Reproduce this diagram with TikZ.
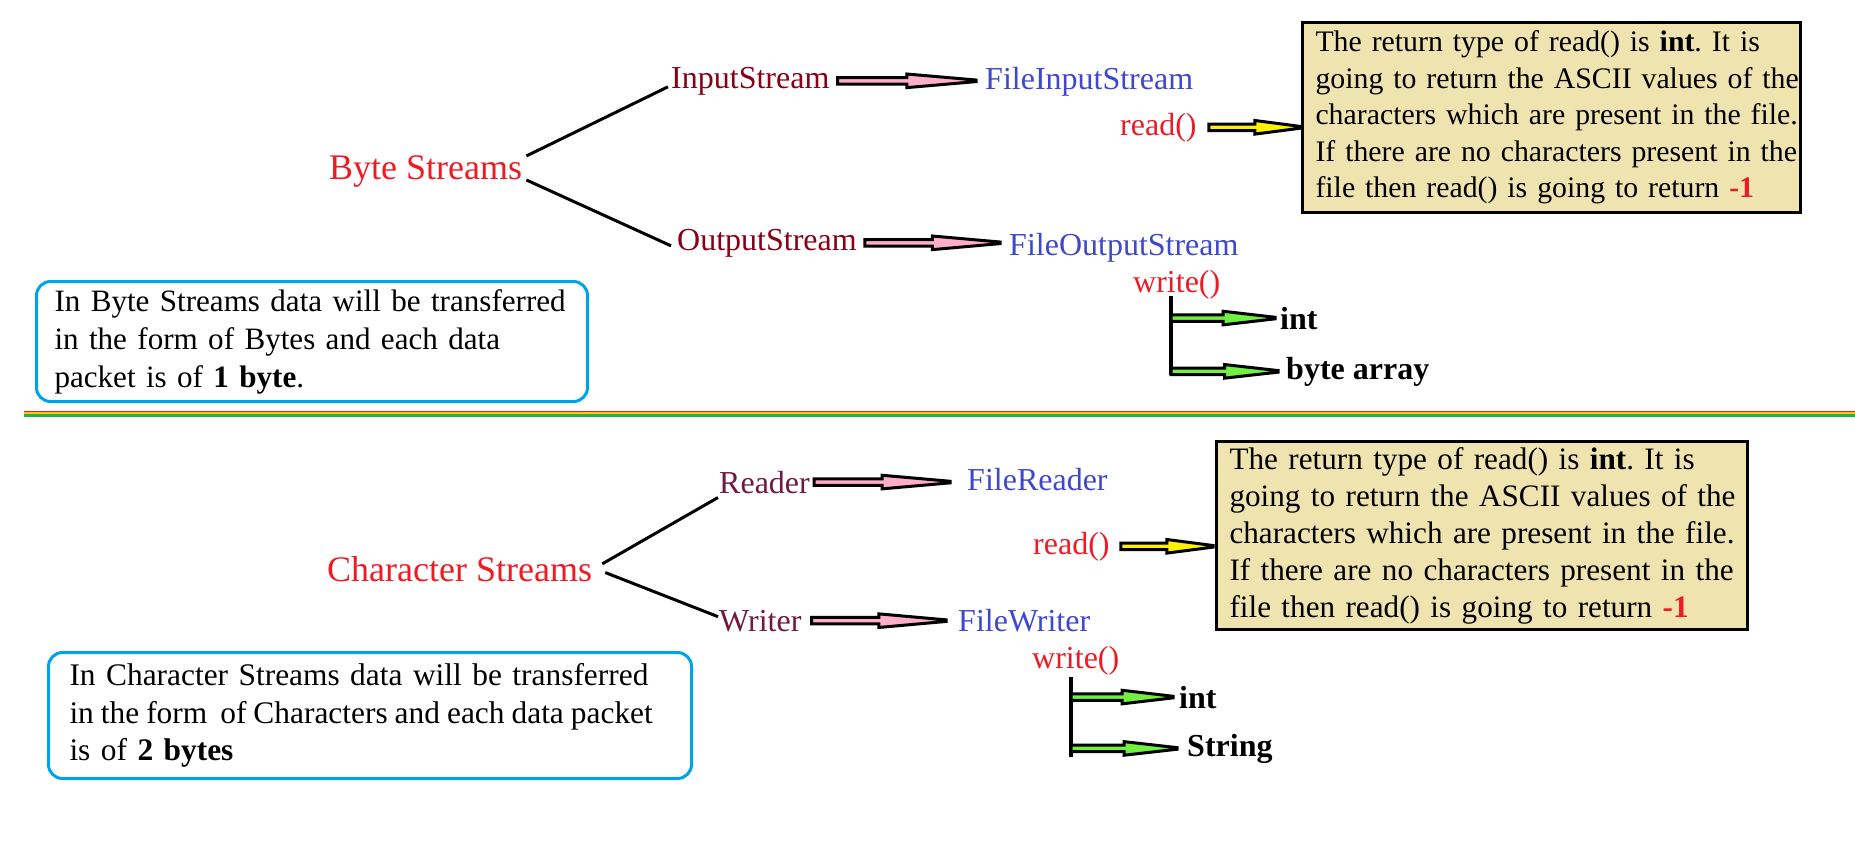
\documentclass[tikz,border=0pt]{standalone}
\usepackage{fontspec}
\setmainfont{Liberation Serif}
\usetikzlibrary{calc}
\definecolor{tred}{HTML}{ED1C24}
\definecolor{dred}{HTML}{880015}
\definecolor{pred}{HTML}{701A40}
\definecolor{tblue}{HTML}{3F48CC}
\definecolor{boxfill}{HTML}{EFE4B0}
\definecolor{noteblue}{HTML}{00A2E8}
\definecolor{apink}{HTML}{FFAEC9}
\definecolor{ayellow}{HTML}{FFF200}
\definecolor{agreen}{HTML}{70F040}
\definecolor{sepyellow}{HTML}{FFC90E}
\definecolor{sepgreen}{HTML}{22B14C}
\frenchspacing
\hbadness=10000 \hfuzz=100pt
\tikzset{
 lbl/.style={inner sep=0pt, anchor=base west, font=\fontsize{32}{37}\selectfont},
 title/.style={lbl, font=\fontsize{36}{42}\selectfont, text=tred},
 fat/.style={draw=black, line width=3pt, line join=miter, miter limit=3},
 note/.style={draw=black, line width=3pt, fill=boxfill, anchor=north west, align=left, inner xsep=13pt, inner ysep=0pt},
 bnote/.style={draw=noteblue, line width=3pt, rounded corners=14pt, anchor=north west, align=left, inner ysep=0pt},
 branch/.style={line width=3pt, draw=black},
 vbar/.style={line width=3.5pt, draw=black},
}
\newcommand\fatarrow[3]{\draw[fat,fill=#1] let \p1=#2, \p2=#3, \p3=($#2!0.5!#3$) in
  (\x1,\y1+3.3pt) -- (\x3,\y1+3.3pt) -- (\x3,\y1+6.8pt) -- (\x2,\y1+0.8pt) -- (\x2,\y1-0.8pt)
  -- (\x3,\y1-6.8pt) -- (\x3,\y1-3.3pt) -- (\x1,\y1-3.3pt) -- cycle;}
\begin{document}
\begin{tikzpicture}[x=1pt,y=-1pt]
\useasboundingbox (0,0) rectangle (1855,860);
% ---------- Byte streams ----------
\node[title] (bytes) at (329,179) {Byte Streams};
\node[lbl, text=dred] (in) at (671,88) {InputStream};
\node[lbl, text=tblue] (fin) at (985,89) {FileInputStream};
\node[lbl, text=tred] (read1) at (1120,135) {read()};
\node[lbl, text=dred] (out) at (677,250) {OutputStream};
\node[lbl, text=tblue] (fout) at (1009,255) {FileOutputStream};
\node[lbl, text=tred] (write1) at (1133,292) {write()};
\node[lbl, font=\fontsize{32}{37}\selectfont\bfseries] (int1) at (1280,329) {int};
\node[lbl, font=\fontsize{32}{37}\selectfont\bfseries] (barr) at (1286,379) {byte array};
\node[note, font=\fontsize{29.8}{36.5}\selectfont, text width=472pt, minimum height=190pt] (box1) at (1301,21)
 {\mbox{The return type of read() is \textbf{int}. It is}\\
  \mbox{going to return the ASCII values of the}\\
  \mbox{characters which are present in the file.}\\
  \mbox{If there are no characters present in the}\\
  \mbox{file then read() is going to return \textcolor{tred}{\textbf{-1}}}};
\node[bnote, font=\fontsize{31.1}{38}\selectfont, inner xsep=18pt, text width=515pt, minimum height=120pt] (note1) at (35,280)
 {\mbox{In Byte Streams data will be transferred}\\
  \mbox{in the form of Bytes and each data}\\
  \mbox{packet is of \textbf{1 byte}.}};
\draw[branch] ([shift={(4pt,-1pt)}]bytes.north east) -- ([shift={(-3pt,-6pt)}]in.west);
\draw[branch] ([shift={(4pt,7pt)}]bytes.south east) -- ([shift={(-6pt,-3pt)}]out.west);
\fatarrow{apink}{([xshift=8pt]in.east)}{([xshift=-9pt]fin.west)}
\fatarrow{apink}{([xshift=8pt]out.east)}{([xshift=-9pt]fout.west)}
\fatarrow{ayellow}{([xshift=12pt]read1.east)}{(box1.west)}
\coordinate (w1top) at (1171,296);
\coordinate (w1bot) at (1171,375);
\draw[vbar] (w1top) -- (w1bot);
\fatarrow{agreen}{(w1top |- int1.west)}{([xshift=-5pt]int1.west)}
\fatarrow{agreen}{(w1top |- barr.west)}{([xshift=-8pt]barr.west)}
% ---------- separator ----------
\draw[tred, line width=1.5pt] (24,411.5) -- (1855,411.5);
\draw[sepyellow, line width=1.2pt] (24,412.9) -- (1855,412.9);
\draw[sepgreen, line width=3.4pt] (24,415.2) -- (1855,415.2);
% ---------- Character streams ----------
\node[title] (chars) at (327,581) {Character Streams};
\node[lbl, text=pred] (reader) at (719,493) {Reader};
\node[lbl, text=tblue] (freader) at (967,490) {FileReader};
\node[lbl, text=tred] (read2) at (1033,554) {read()};
\node[lbl, text=pred] (writer) at (719,631) {Writer};
\node[lbl, text=tblue] (fwriter) at (958,631) {FileWriter};
\node[lbl, text=tred] (write2) at (1032,668) {write()};
\node[lbl, font=\fontsize{32}{37}\selectfont\bfseries] (int2) at (1179,708) {int};
\node[lbl, font=\fontsize{32}{37}\selectfont\bfseries] (str) at (1187,756) {String};
\node[note, font=\fontsize{31.2}{37}\selectfont, text width=505pt, minimum height=188pt] (box2) at (1215,440)
 {\mbox{The return type of read() is \textbf{int}. It is}\\
  \mbox{going to return the ASCII values of the}\\
  \mbox{characters which are present in the file.}\\
  \mbox{If there are no characters present in the}\\
  \mbox{file then read() is going to return \textcolor{tred}{\textbf{-1}}}};
\node[bnote, font=\fontsize{31.4}{37.5}\selectfont, inner xsep=21pt, text width=601pt, minimum height=126pt] (note2) at (47,651)
 {\mbox{In Character Streams data will be transferred}\\
  \mbox{\spaceskip=7pt plus 1pt\relax in the form\hspace{13pt}of Characters and each data packet}\\
  \mbox{is of \textbf{2 bytes}}};
\draw[branch] ([shift={(10pt,-8pt)}]chars.north east) -- ([shift={(-1pt,-4pt)}]reader.south west);
\draw[branch] ([shift={(13pt,9pt)}]chars.south east) -- ([shift={(-1pt,4pt)}]writer.west);
\fatarrow{apink}{([xshift=4pt]reader.east)}{([xshift=-17pt]freader.west)}
\fatarrow{apink}{([xshift=10pt]writer.east)}{([xshift=-12pt]fwriter.west)}
\fatarrow{ayellow}{([xshift=11pt]read2.east)}{([xshift=-2pt]box2.west)}
\coordinate (w2top) at (1071,677);
\coordinate (w2bot) at (1071,757);
\draw[vbar] (w2top) -- (w2bot);
\fatarrow{agreen}{(w2top |- int2.west)}{([xshift=-6pt]int2.west)}
\fatarrow{agreen}{(w2top |- str.west)}{([xshift=-10pt]str.west)}
\end{tikzpicture}
\end{document}
